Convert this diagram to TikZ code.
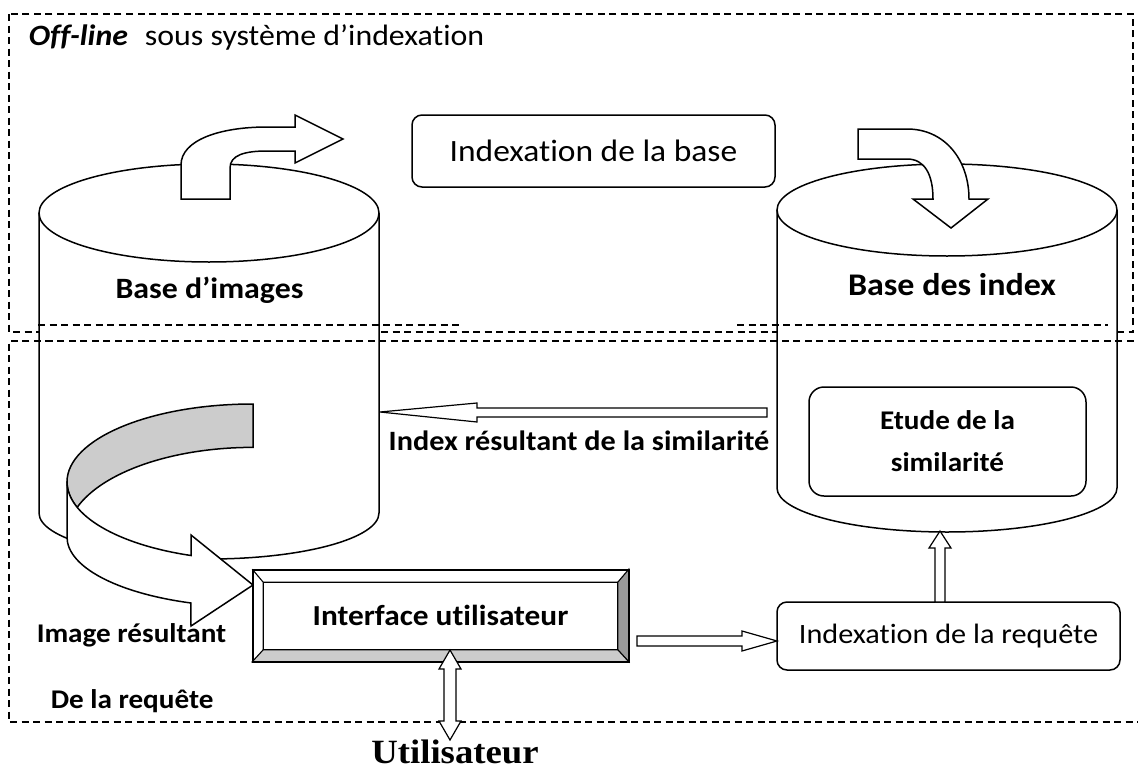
\documentclass[tikz,border=0pt]{standalone}
\usepackage{fontspec}
\setmainfont{Carlito}[FakeStretch=1.08,Ligatures=NoCommon]
\newfontfamily\userfont{Liberation Serif}[FakeStretch=1.08]
\usetikzlibrary{calc,positioning}

\begin{document}
\begin{tikzpicture}[x=1pt,y=-1pt,line width=1.5pt,
    zone/.style={dash pattern=on 7pt off 4.5pt,line width=1.3pt},
    lbl/.style={inner sep=0pt,anchor=base,font=\fontsize{27}{32}\selectfont\bfseries},
    roundbox/.style={draw,fill=white,rounded corners=10pt,inner sep=0pt,align=center},
    hollow/.style={draw,fill=white,line width=1.2pt},
    ribbon/.style={draw,fill=white}
  ]
  \useasboundingbox (0,0) rectangle (1138,771);
  \clip (0,0) rectangle (1138,771);

  % off-line zone
  \draw[zone] (9,14) rectangle (1133,332);
  \node[lbl,anchor=base west,font=\fontsize{29.5}{34}\selectfont] (title) at (28,45)
    {\textbf{\textit{Off-line}}\hspace{17pt}sous système d’indexation};
  \node[roundbox,minimum width=363pt,minimum height=72pt,font=\fontsize{31}{36}\selectfont] (idxbase) at (593.5,151) {Indexation de la base};

  % base d'images
  \draw[fill=white] (39,213) -- (39,513) arc[start angle=180,end angle=0,x radius=170,y radius=46] -- (379,213);
  \draw[fill=white] (209,213) ellipse [x radius=170,y radius=49];
  \node[lbl,font=\fontsize{29.5}{34}\selectfont\bfseries] (imgdb) at (209.5,298) {Base d’images};

  % base des index
  \draw[fill=white] (777,210) -- (777,488) arc[start angle=180,end angle=0,x radius=170,y radius=44] -- (1117,210);
  \draw[fill=white] (947,210) ellipse [x radius=170,y radius=46];
  \node[lbl,font=\fontsize{31.5}{36}\selectfont\bfseries] (idxdb) at (952,295) {Base des index};

  % curved arrows of the indexation
  \draw[ribbon] (181,199) -- (181,165) .. controls (181,140) and (220,127) .. (267,127) -- (295,127) -- (295,115)
    -- (343,139) -- (295,163) -- (295,151) -- (267,151) .. controls (245,151) and (230,155) .. (230,168) -- (230,199) -- cycle;
  \draw[ribbon] (858,129) -- (907,129) .. controls (945,129) and (969,160) .. (969,199) -- (988,199) -- (951,228)
    -- (913,199) -- (933,199) .. controls (933,175) and (925,159) .. (907,159) -- (858,159) -- cycle;

  % on-line zone
  \draw[zone] (1145,341) -- (9,341) -- (9,722) -- (1145,722);
  \draw[zone] (38,325) -- (462,325);
  \draw[zone] (737,325) -- (1108,325);

  \node[roundbox,rounded corners=15pt,minimum width=277pt,minimum height=109pt,font=\fontsize{27}{42}\selectfont\bfseries] (etude) at (947.5,441.5) {Etude de la\\similarité};

  % index resultant
  \draw[hollow] (767,408) -- (477,408) -- (477,403) -- (380,412) -- (477,422) -- (477,417) -- (767,417) -- cycle;
  \node[lbl,font=\fontsize{28}{32}\selectfont\bfseries] (idxres) at (579,450) {Index résultant de la similarité};

  % image resultant (curved ribbon)
  \filldraw[fill=gray!40] (253,404) arc[start angle=270,end angle=180,x radius=186,y radius=78]
    arc[start angle=180,end angle=161,x radius=186,y radius=78]
    arc[start angle=199,end angle=270,x radius=186,y radius=89] -- cycle;
  \draw[ribbon] (67,482) -- (67,537) arc[start angle=180,end angle=109.5,x radius=186,y radius=70]
    -- (191,626) -- (253,585) -- (191,535) -- (191,555.5)
    arc[start angle=109.5,end angle=180,x radius=186,y radius=78] -- cycle;
  \node[lbl,anchor=base west] (imgres) at (36,642) {Image résultant};
  \node[lbl,anchor=base west] (reqlbl) at (50,708) {De la requête};

  % interface utilisateur
  \node[draw,fill=white,minimum width=375pt,minimum height=91pt,inner sep=0pt,font=\fontsize{29}{34}\selectfont\bfseries] (iface) at (440.5,615.5) {Interface utilisateur};
  \coordinate (inw) at ($(iface.north west)+(11,13)$);
  \coordinate (ine) at ($(iface.north east)+(-11,13)$);
  \coordinate (ise) at ($(iface.south east)+(-11,-12)$);
  \coordinate (isw) at ($(iface.south west)+(11,-12)$);
  \filldraw[fill=gray!80,line width=1.1pt] (iface.north east) -- (iface.south east) -- (ise) -- (ine) -- cycle;
  \filldraw[fill=gray!40,line width=1.1pt] (iface.south west) -- (iface.south east) -- (ise) -- (isw) -- cycle;
  \draw[line width=1.1pt] (iface.north west) -- (inw) -- (ine) (inw) -- (isw);
  \draw (iface.north west) rectangle (iface.south east);

  % indexation de la requete
  \node[roundbox,minimum width=343pt,minimum height=68pt,font=\fontsize{28}{32}\selectfont] (reqidx) at (948.5,636) {Indexation de la requête};
  \draw[hollow] (637,636) -- (742,636) -- (742,631) -- (777,641) -- (742,651) -- (742,646) -- (637,646) -- cycle;
  \draw[hollow] (935,602) -- (935,548) -- (929,548) -- (940,531) -- (951,548) -- (945,548) -- (945,602) -- cycle;

  % utilisateur
  \node[inner sep=0pt,anchor=base,font=\userfont\bfseries\fontsize{34}{40}\selectfont] (user) at (455,763)
    {\raisebox{0pt}[\height][0pt]{Utilisateur}};
  \draw[hollow] (450,650) -- (461,669) -- (456,669) -- (456,721) -- (461,721) -- (450,740) -- (439,721)
    -- (444,721) -- (444,669) -- (439,669) -- cycle;
\end{tikzpicture}
\end{document}
